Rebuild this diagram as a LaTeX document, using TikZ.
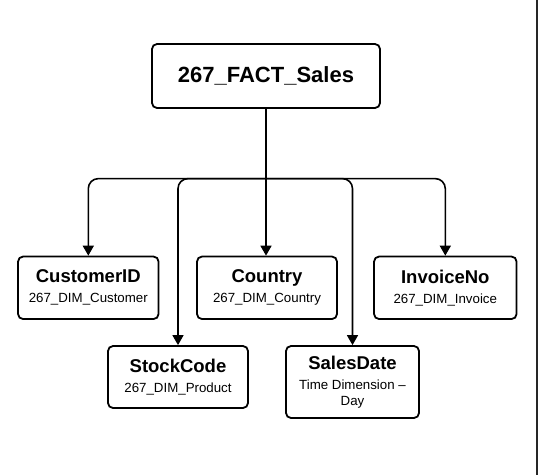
\documentclass[tikz,border=0pt]{standalone}
\usepackage{fontspec}
\setmainfont{Liberation Sans}
\usetikzlibrary{arrows.meta}
\tikzset{
  box/.style={draw=black, line width=1.8pt, rounded corners=5pt, align=center, inner sep=0pt, fill=white, font=\fontsize{13.3}{16}\selectfont},
  conn/.style={draw=black, line width=1.6pt, -{Triangle[length=10pt,width=11pt]}},
}
\newcommand{\ttlf}{\fontsize{18.5}{20}\selectfont\bfseries}
\begin{document}
\begin{tikzpicture}[x=1pt,y=-1pt]
\useasboundingbox (0,0) rectangle (538,475);
\fill[white] (0,0) rectangle (538,475);
\fill[black!85] (535.8,0) rectangle (538,475);

\node[box, minimum width=228pt, minimum height=64pt, font=\fontsize{22}{24}\selectfont\bfseries] (fact) at (266,76) {267\_FACT\_Sales};

\node[box, minimum width=140.5pt, minimum height=62.5pt] (cust) at (88.3,287.8)
  {{\ttlf CustomerID}\\[4pt]267\_DIM\_Customer};
\node[box, minimum width=140pt, minimum height=62.5pt] (ctry) at (267,287.8)
  {{\ttlf Country}\\[4pt]267\_DIM\_Country};
\node[box, minimum width=142.5pt, minimum height=62.5pt] (inv) at (445.3,287.8)
  {{\ttlf InvoiceNo}\\[4pt]267\_DIM\_Invoice};
\node[box, minimum width=140pt, minimum height=62pt] (stock) at (178,377)
  {{\ttlf StockCode}\\[4pt]267\_DIM\_Product};
\node[box, minimum width=133pt, minimum height=72pt] (date) at (352.5,382)
  {{\ttlf SalesDate}\\[4pt]Time Dimension –\\Day};

\coordinate (j) at (266,178.6);
\draw[conn] (fact.south) -- (fact.south |- ctry.north);
\draw[conn, rounded corners=10pt] (j) -| (cust.north);
\draw[conn, rounded corners=10pt] (j) -| (stock.north);
\draw[conn, rounded corners=10pt] (j) -| (date.north);
\draw[conn, rounded corners=10pt] (j) -| (inv.north);
\end{tikzpicture}
\end{document}
